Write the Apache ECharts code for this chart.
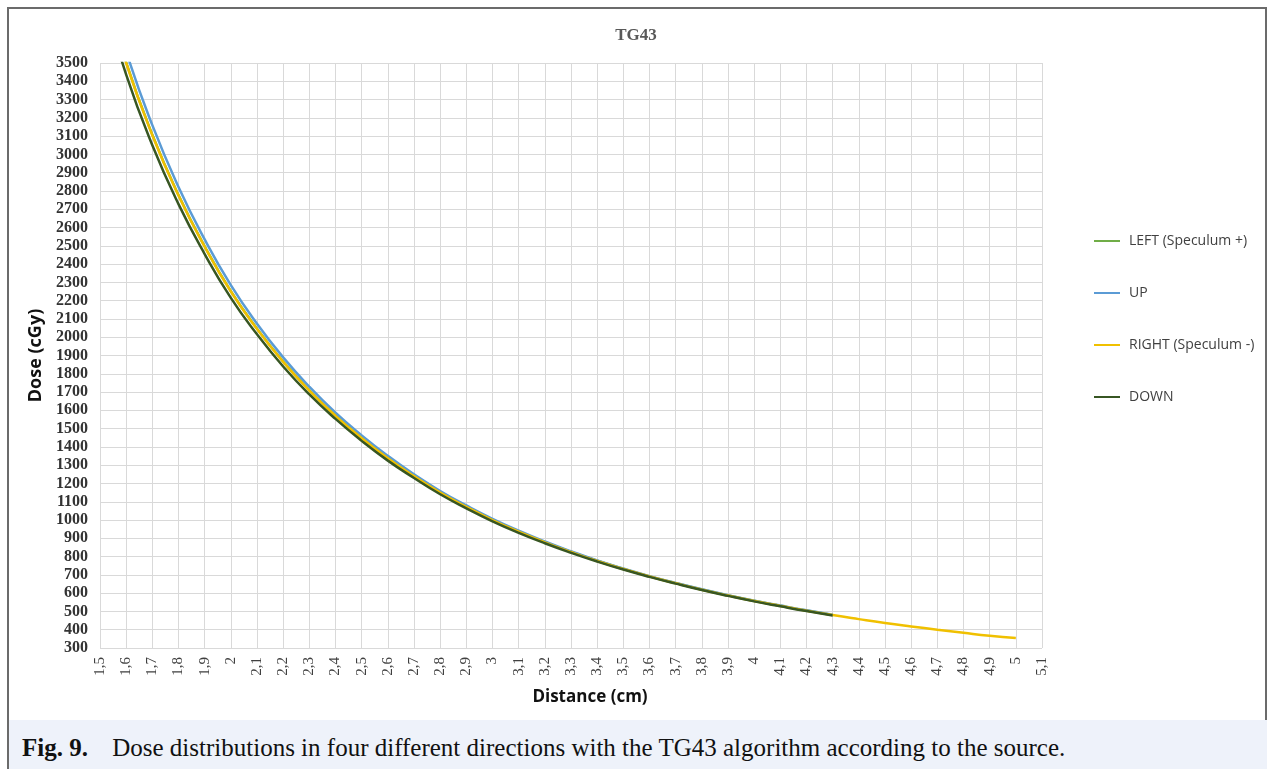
<!DOCTYPE html>
<html>
<head>
<meta charset="utf-8">
<script src="https://cdn.jsdelivr.net/npm/echarts@6/dist/echarts.min.js"></script>
<style>
  html, body { margin: 0; padding: 0; background: #fff; }
  body { width: 1272px; height: 769px; position: relative; overflow: hidden; }
  .frame { position: absolute; left: 7px; top: 7px; width: 1260px; height: 780px; border: 2px solid #6b6b6b; box-sizing: border-box; }
  .caption { position: absolute; left: 9px; top: 720px; width: 1258px; height: 60px; background: #eef2fa;
    font-family: "Liberation Serif", serif; font-size: 25px; color: #111; line-height: 56px; padding-left: 13px; box-sizing: border-box; }
  .caption b { margin-right: 18px; }
  #chart { position: absolute; left: 0; top: 0; width: 1272px; height: 720px; }
</style>
</head>
<body>
<div class="frame"></div>
<div class="caption"><b>Fig. 9.</b> Dose distributions in four different directions with the TG43 algorithm according to the source.</div>
<div id="chart"></div>
<script>
// distances (cm)
const distance = [1.5, 1.6, 1.7, 1.8, 1.9, 2.0, 2.1, 2.2, 2.3, 2.4, 2.5, 2.6, 2.7, 2.8, 2.9, 3.0,
  3.1, 3.2, 3.3, 3.4, 3.5, 3.6, 3.7, 3.8, 3.9, 4.0, 4.1, 4.2, 4.3, 4.4, 4.5, 4.6, 4.7, 4.8, 4.9, 5.0];
// dose (cGy) per direction
const rightDose = [3990, 3500, 3105, 2775, 2495, 2250, 2045, 1865, 1708, 1570, 1448, 1338, 1240, 1150, 1072, 1000,
  936, 878, 825, 776, 732, 691, 654, 619, 587, 557, 530, 504, 480, 458, 437, 418, 400, 383, 367, 355];
const leftDose = [3995, 3504, 3108, 2778, 2497, 2252, 2047, 1867, 1710, 1571, 1449, 1339, 1241, 1151, 1073, 1001,
  937, 879, 826, 777, 733, 692, 655, 620, 588, 558, 531, 505, 481];
const upDose = [4062, 3563, 3160, 2822, 2535, 2285, 2074, 1890, 1729, 1587, 1463, 1351, 1250, 1159, 1080, 1007,
  942, 883, 829, 779, 735, 693, 656, 621, 589, 559, 532, 506, 482];
const downDose = [3918, 3437, 3050, 2728, 2455, 2215, 2016, 1840, 1687, 1553, 1433, 1325, 1230, 1141, 1064, 993,
  930, 873, 821, 773, 729, 689, 652, 617, 585, 555, 528, 502, 478];
const seriesNames = ['LEFT (Speculum +)', 'UP', 'RIGHT (Speculum -)', 'DOWN'];
const seriesColors = ['#70ad47', '#5b9bd5', '#f0c000', '#375623'];

const pairs = vals => vals.map((v, i) => [distance[i], v]);
const doseSets = [leftDose, upDose, rightDose, downDose];

const myChart = echarts.init(document.getElementById('chart'));
const option = {
  animation: false,
  title: {
    text: 'TG43',
    left: 'center',
    top: 22,
    textStyle: { fontFamily: 'Liberation Serif', fontWeight: 'bold', fontSize: 17, color: '#595959' },
  },
  grid: { left: 100, right: 230, top: 63, bottom: 72 },
  legend: {
    orient: 'vertical',
    left: 1089,
    top: 229,
    itemGap: 38,
    itemWidth: 26,
    itemHeight: 2,
    icon: 'rect',
    data: seriesNames,
    textStyle: { fontFamily: 'Open Sans', fontSize: 14, color: '#404040', padding: [0, 0, 0, 4] },
  },
  xAxis: {
    type: 'value',
    min: 1.5,
    max: 5.1,
    interval: 0.1,
    name: 'Distance (cm)',
    nameLocation: 'middle',
    nameGap: 41,
    nameTextStyle: { fontFamily: 'Open Sans', fontWeight: 'bold', fontSize: 17, color: '#111', padding: [0, 0, 0, 38] },
    axisLine: { show: false },
    axisTick: { show: false },
    axisLabel: {
      rotate: 90,
      margin: 9,
      fontFamily: 'Liberation Serif',
      fontSize: 15,
      color: '#404040',
      formatter: v => String(parseFloat(v.toFixed(1))).replace('.', ','),
    },
    splitLine: { show: true, lineStyle: { color: '#d9d9d9', width: 1 } },
  },
  yAxis: {
    type: 'value',
    min: 300,
    max: 3500,
    interval: 100,
    name: 'Dose (cGy)',
    nameLocation: 'middle',
    nameGap: 50,
    nameTextStyle: { fontFamily: 'Open Sans', fontWeight: 'bold', fontSize: 18, color: '#111' },
    axisLine: { show: false },
    axisTick: { show: false },
    axisLabel: {
      margin: 12,
      fontFamily: 'Liberation Serif',
      fontWeight: 'bold',
      fontSize: 16,
      color: '#333',
      formatter: v => String(v),
    },
    splitLine: { show: true, lineStyle: { color: '#d9d9d9', width: 1 } },
  },
  series: seriesNames.map((name, k) => ({
    name: name,
    type: 'line',
    smooth: true,
    showSymbol: false,
    clip: true,
    color: seriesColors[k],
    lineStyle: { width: 2.5, color: seriesColors[k] },
    data: pairs(doseSets[k]),
  })),
};
myChart.setOption(option);
</script>
</body>
</html>
